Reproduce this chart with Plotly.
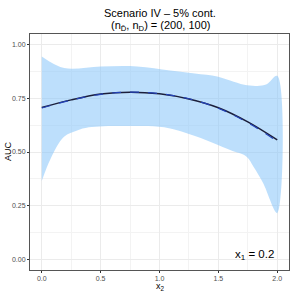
import plotly.graph_objects as go

# data
x_line = [0.0, 0.25, 0.5, 0.75, 1.0, 1.25, 1.5, 1.75, 2.0]
auc_true = [0.707, 0.743, 0.770, 0.779, 0.771, 0.747, 0.706, 0.640, 0.556]
auc_est = [0.705, 0.742, 0.769, 0.779, 0.772, 0.748, 0.704, 0.637, 0.550]

x_up = [0.0, 0.19, 0.5, 0.81, 1.09, 1.3, 1.49, 1.6, 1.72, 1.83, 1.91, 2.0]
band_up = [0.945, 0.891, 0.899, 0.899, 0.880, 0.866, 0.852, 0.833, 0.813, 0.808, 0.816, 0.855]
x_lo = [0.0, 0.076, 0.189, 0.3, 0.4, 0.754, 1.04, 1.32, 1.6, 1.74, 1.8, 1.88, 2.0]
band_lo = [0.365, 0.470, 0.571, 0.600, 0.615, 0.621, 0.615, 0.571, 0.509, 0.478, 0.430, 0.355, 0.215]

x_ticks = [0.0, 0.5, 1.0, 1.5, 2.0]
x_ticklabels = ["0.0", "0.5", "1.0", "1.5", "2.0"]
y_ticks = [0.0, 0.25, 0.5, 0.75, 1.0]
y_ticklabels = ["0.00", "0.25", "0.50", "0.75", "1.00"]

title1 = "Scenario IV \u2013 5% cont."
title2 = "(n<sub>D\u0304</sub>, n<sub>D</sub>) = (200, 100)"
label = "x<sub>1</sub> = 0.2"
x_title = "x<sub>2</sub>"
y_title = "AUC"

FONT = "Liberation Sans, Arial"

fig = go.Figure()
fig.add_trace(go.Scatter(x=x_up + x_lo[::-1], y=band_up + band_lo[::-1],
                         fill="toself", fillcolor="rgba(135,196,250,0.55)",
                         line=dict(width=0), mode="lines", hoverinfo="skip",
                         line_shape="spline", showlegend=False))
fig.add_trace(go.Scatter(x=x_line, y=auc_true, mode="lines", line_shape="spline",
                         line=dict(color="#1b1f3b", width=1.5), showlegend=False))
fig.add_trace(go.Scatter(x=x_line, y=auc_est, mode="lines", line_shape="spline",
                         line=dict(color="#2342b8", width=1.2, dash="dash"), showlegend=False))

axis_common = dict(showgrid=True, gridcolor="#EBEBEB", gridwidth=1, automargin=False,
                   zeroline=False, showline=True, linecolor="#555555", linewidth=1,
                   mirror=True, ticks="outside", ticklen=2, tickcolor="#333333",
                   tickfont=dict(family=FONT, size=7, color="#4D4D4D"))

fig.update_xaxes(range=[-0.1, 2.1], tickvals=x_ticks, ticktext=x_ticklabels,
                 minor=dict(tickvals=[0.25, 0.75, 1.25, 1.75], showgrid=True,
                            gridcolor="#F3F3F3", gridwidth=0.6, ticks=""),
                 **axis_common)
fig.update_yaxes(range=[-0.05, 1.05], tickvals=y_ticks, ticktext=y_ticklabels,
                 minor=dict(tickvals=[0.125, 0.375, 0.625, 0.875], showgrid=True,
                            gridcolor="#F3F3F3", gridwidth=0.6, ticks=""),
                 **axis_common)

# plot area: x 30..289, y 34..270 (height 236)
def py(p):
    return (270 - p) / 236.0

def px(p):
    return (p - 30) / 259.0

fig.update_layout(
    width=292, height=292,
    margin=dict(l=30, r=3, t=34, b=22, autoexpand=False),
    plot_bgcolor="white", paper_bgcolor="white",
    showlegend=False,
    annotations=[
        dict(text=title1, x=px(160), y=py(13), xref="paper", yref="paper",
             yanchor="middle", xanchor="center", showarrow=False,
             font=dict(family=FONT, size=11, color="#000")),
        dict(text=title2, x=px(160), y=py(26.5), xref="paper", yref="paper",
             yanchor="middle", xanchor="center", showarrow=False,
             font=dict(family=FONT, size=11, color="#000")),
        dict(text=label, x=1.99, y=0.02, xref="x", yref="y", xanchor="right",
             yanchor="middle", showarrow=False,
             font=dict(family=FONT, size=11.5, color="#000")),
        dict(text=x_title, x=px(160), y=py(286), xref="paper", yref="paper",
             yanchor="middle", xanchor="center", showarrow=False,
             font=dict(family=FONT, size=9, color="#000")),
        dict(text=y_title, x=px(8), y=py(151), xref="paper", yref="paper",
             yanchor="middle", xanchor="center", showarrow=False, textangle=-90,
             font=dict(family=FONT, size=9, color="#000")),
    ],
)

fig.write_html("out.html", config={"displayModeBar": False},
               post_script="document.body.style.margin='0';document.body.style.padding='0';")
